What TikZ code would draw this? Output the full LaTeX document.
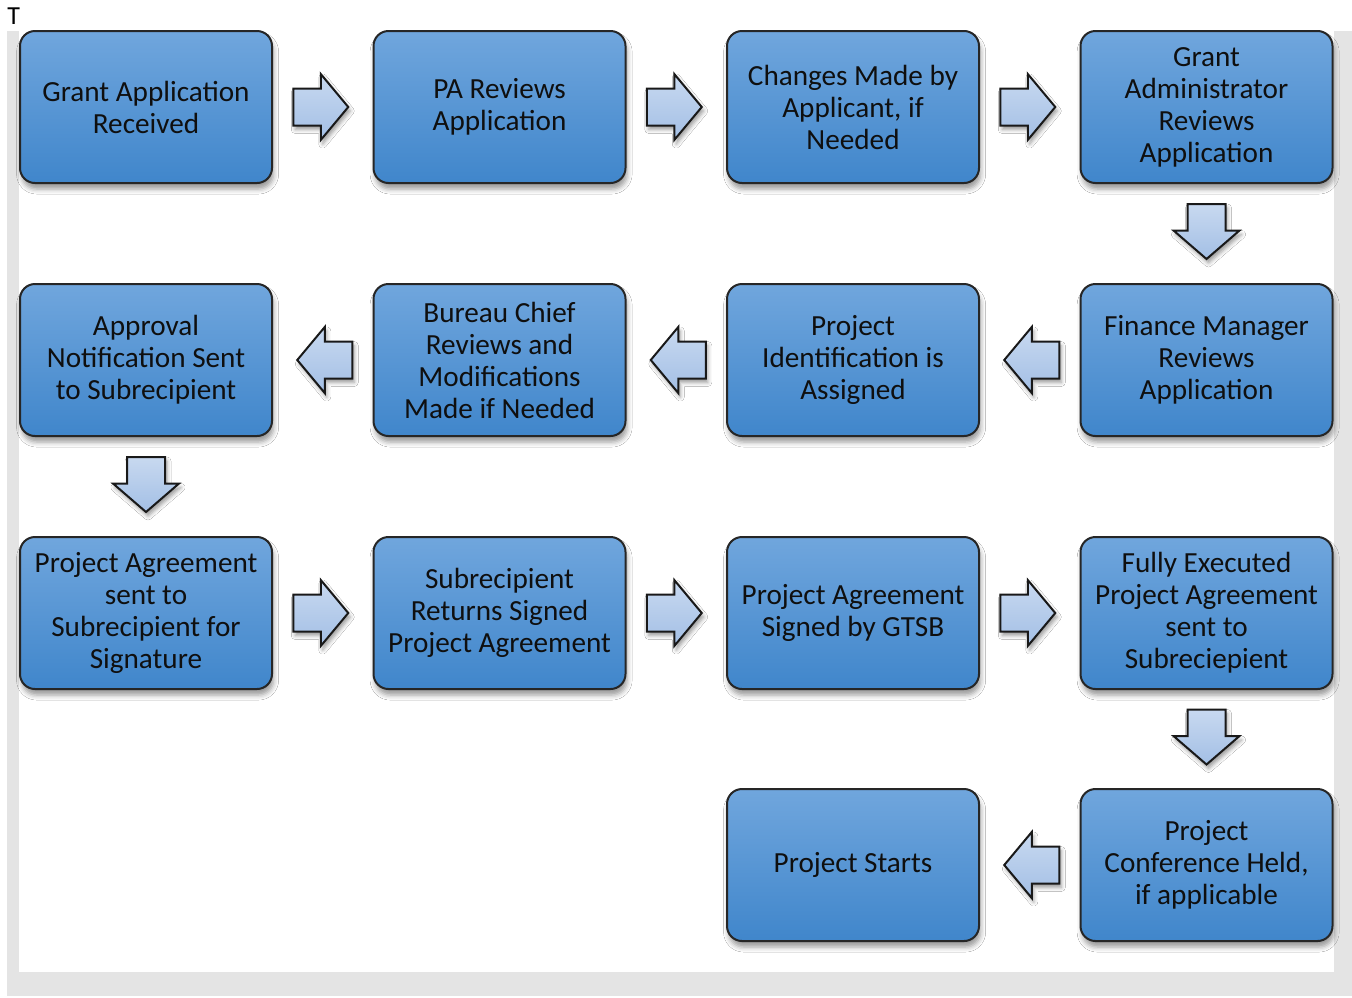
\documentclass[tikz,border=0pt]{standalone}
\usepackage{fontspec}
\setmainfont{Carlito}
\usetikzlibrary{calc,shadows.blur}
\definecolor{boxtop}{RGB}{112,166,221}
\definecolor{boxbot}{RGB}{64,134,203}
\definecolor{arrtop}{RGB}{200,217,240}
\definecolor{arrbot}{RGB}{163,191,229}
\definecolor{framegray}{RGB}{228,228,228}
\definecolor{txt}{RGB}{15,15,15}
\tikzset{
  stepbox/.style={rectangle, rounded corners=7.5pt, draw=black!85, line width=1pt,
    top color=boxtop, bottom color=boxbot,
    minimum width=126pt, minimum height=76pt, inner sep=2pt,
    align=center, text=txt, font=\fontsize{14.6pt}{16pt}\selectfont,
    blur shadow={shadow xshift=0.8pt, shadow yshift=-3pt, shadow blur radius=2.5pt, shadow opacity=40}},
  arrowstyle/.style={draw=black!90, line width=1pt, line join=miter,
    top color=arrtop, bottom color=arrbot,
    blur shadow={shadow xshift=1pt, shadow yshift=-2pt, shadow blur radius=2pt, shadow opacity=40}},
  rarrow/.pic={\path[arrowstyle] (-27.5,-18.5) -- (0,-18.5) -- (0,-33) -- (27.5,0) -- (0,33) -- (0,18.5) -- (-27.5,18.5) -- cycle;},
  larrow/.pic={\path[arrowstyle] (27.5,-18.5) -- (0,-18.5) -- (0,-33) -- (-27.5,0) -- (0,33) -- (0,18.5) -- (27.5,18.5) -- cycle;},
  darrow/.pic={\path[arrowstyle] (-19,-27.5) -- (19,-27.5) -- (19,-1) -- (33,-1) -- (0,27.5) -- (-33,-1) -- (-19,-1) -- cycle;},
}
\begin{document}
\begin{tikzpicture}[x=0.5pt,y=-0.5pt]
\useasboundingbox (0,0) rectangle (1352,997);
\fill[white] (0,0) rectangle (1352,997);
\fill[framegray] (7,31) rectangle (1352,996);
\fill[white] (19,31) rectangle (1334,972);
\node[anchor=base west, inner sep=0pt, font=\fontsize{13pt}{16pt}\selectfont] (t) at (7,24) {T};
% row 1
\node[stepbox] (r1c1) at (146,107) {Grant Application\\Received};
\node[stepbox] (r1c2) at (499.5,107) {PA Reviews\\Application};
\node[stepbox] (r1c3) at (853,107) {Changes Made by\\Applicant, if\\Needed};
\node[stepbox] (r1c4) at (1206.5,107) {Grant\\Administrator\\Reviews\\Application};
% row 2
\node[stepbox] (r2c1) at (146,360) {Approval\\Notification Sent\\to Subrecipient};
\node[stepbox] (r2c2) at (499.5,360) {Bureau Chief\\Reviews and\\Modifications\\Made if Needed};
\node[stepbox] (r2c3) at (853,360) {Project\\Identification is\\Assigned};
\node[stepbox] (r2c4) at (1206.5,360) {Finance Manager\\Reviews\\Application};
% row 3
\node[stepbox] (r3c1) at (146,613) {Project Agreement\\sent to\\Subrecipient for\\Signature};
\node[stepbox] (r3c2) at (499.5,613) {Subrecipient\\Returns Signed\\Project Agreement};
\node[stepbox] (r3c3) at (853,613) {Project Agreement\\Signed by GTSB};
\node[stepbox] (r3c4) at (1206.5,613) {Fully Executed\\Project Agreement\\sent to\\Subreciepient};
% row 4
\node[stepbox] (r4c3) at (853,865) {Project Starts};
\node[stepbox] (r4c4) at (1206.5,865) {Project\\Conference Held,\\if applicable};
% arrows
\pic at ($(r1c1.east)!0.5!(r1c2.west)+(-2,0)$) {rarrow};
\pic at ($(r1c2.east)!0.5!(r1c3.west)+(-2,0)$) {rarrow};
\pic at ($(r1c3.east)!0.5!(r1c4.west)+(-2,0)$) {rarrow};
\pic at ($(r1c4.south)!0.5!(r2c4.north)+(0,-2)$) {darrow};
\pic at ($(r2c4.west)!0.5!(r2c3.east)+(2,0)$) {larrow};
\pic at ($(r2c3.west)!0.5!(r2c2.east)+(2,0)$) {larrow};
\pic at ($(r2c2.west)!0.5!(r2c1.east)+(2,0)$) {larrow};
\pic at ($(r2c1.south)!0.5!(r3c1.north)+(0,-2)$) {darrow};
\pic at ($(r3c1.east)!0.5!(r3c2.west)+(-2,0)$) {rarrow};
\pic at ($(r3c2.east)!0.5!(r3c3.west)+(-2,0)$) {rarrow};
\pic at ($(r3c3.east)!0.5!(r3c4.west)+(-2,0)$) {rarrow};
\pic at ($(r3c4.south)!0.5!(r4c4.north)+(0,-2)$) {darrow};
\pic at ($(r4c4.west)!0.5!(r4c3.east)+(2,0)$) {larrow};
\end{tikzpicture}
\end{document}
